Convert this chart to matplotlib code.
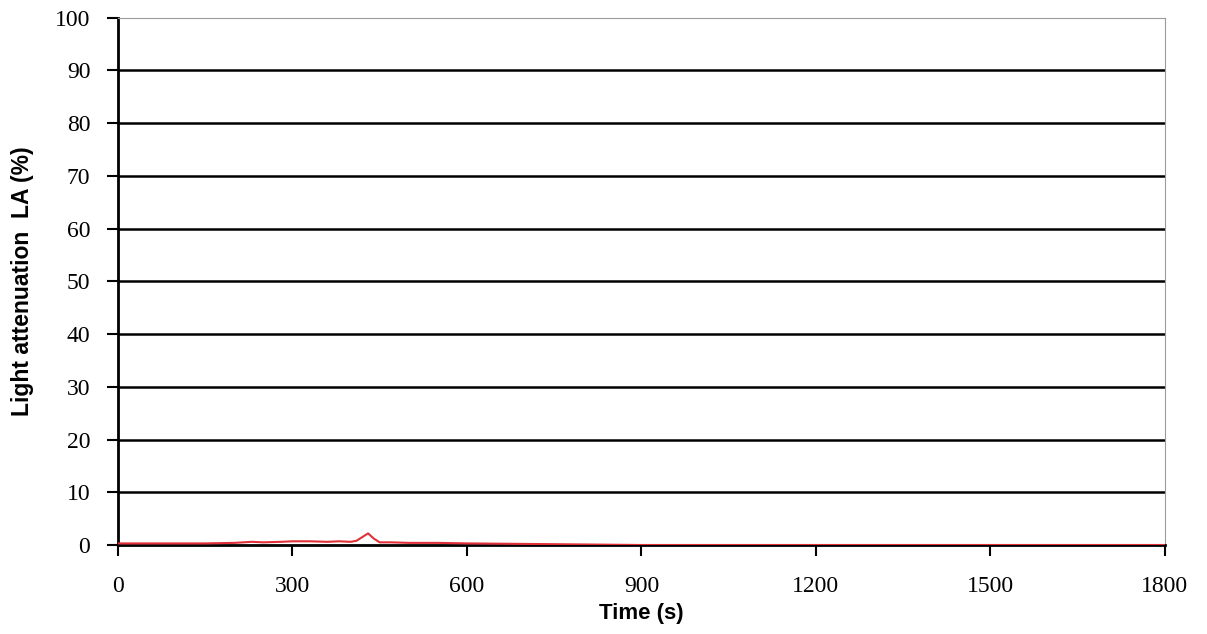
import matplotlib.pyplot as plt

# Light attenuation trace (time in s, LA in %)
time_s = [0, 50, 100, 150, 200, 230, 250, 280, 300, 330, 360, 380, 400, 410,
          420, 430, 440, 450, 470, 500, 550, 600, 700, 800, 900, 1000, 1100,
          1200, 1300, 1400, 1500, 1600, 1700, 1800]
la_pct = [0.3, 0.3, 0.3, 0.3, 0.4, 0.6, 0.5, 0.6, 0.7, 0.7, 0.6, 0.7, 0.6, 0.8,
          1.5, 2.2, 1.2, 0.5, 0.5, 0.4, 0.4, 0.3, 0.2, 0.1, 0.0, 0.0, 0.0,
          0.0, 0.0, 0.0, 0.0, 0.0, 0.0, 0.0]

x_ticks = [0, 300, 600, 900, 1200, 1500, 1800]
y_ticks = list(range(0, 101, 10))

fig = plt.figure(figsize=(12.07, 6.34), dpi=100)
ax = fig.add_axes([0.0978, 0.1404, 0.8672, 0.8316])

# horizontal gridlines in black
for y in y_ticks[1:-1]:
    ax.axhline(y, color='black', lw=1.8, zorder=1)

ax.plot(time_s, la_pct, color='#e0303a', lw=1.5, zorder=3)

ax.set_xlim(0, 1800)
ax.set_ylim(0, 100)
ax.set_xticks(x_ticks)
ax.set_yticks(y_ticks)

tick_font = {'family': 'Liberation Serif', 'size': 17}
ax.set_xticklabels([str(t) for t in x_ticks], fontdict=tick_font)
ax.set_yticklabels([str(t) for t in y_ticks], fontdict=tick_font)
ax.tick_params(axis='both', direction='out', length=8, width=1.5, color='black')
ax.tick_params(axis='x', pad=14)
ax.tick_params(axis='y', pad=12)

ax.spines['left'].set_linewidth(2)
ax.spines['bottom'].set_linewidth(2)
ax.spines['top'].set_color('#9a9a9a')
ax.spines['top'].set_linewidth(0.8)
ax.spines['right'].set_color('#9a9a9a')
ax.spines['right'].set_linewidth(0.8)

ax.set_xlabel('Time (s)', family='Liberation Sans', fontsize=16, fontweight='bold', labelpad=5)
ax.set_ylabel('Light attenuation  LA (%)', family='Liberation Sans', fontsize=16.5,
              fontweight='bold', labelpad=15)

fig.savefig('out.png', dpi=100)
